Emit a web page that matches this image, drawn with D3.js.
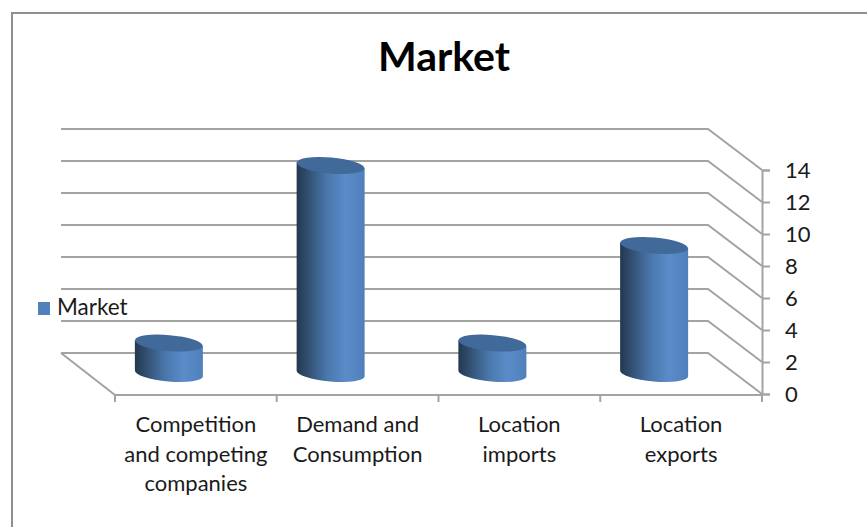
<!DOCTYPE html>
<html>
<head>
<meta charset="utf-8">
<script src="https://cdn.jsdelivr.net/npm/d3@7/dist/d3.min.js"></script>
<style>
html,body{margin:0;padding:0;background:#fff;}
svg{display:block;}
text{font-family:Lato,"Open Sans",sans-serif;fill:#1a1a1a;}
</style>
</head>
<body>
<svg id="chart" width="867" height="527"></svg>
<script>
// Chart content
const chartTitle = "Market";
const seriesName = "Market";
const categories = [
  ["Competition", "and competing", "companies"],
  ["Demand and", "Consumption"],
  ["Location", "imports"],
  ["Location", "exports"]
];
const values = [1.9, 13, 1.9, 8];
const tickValues = [0, 2, 4, 6, 8, 10, 12, 14];

// Oblique 3D box: front face plus the shift to the back wall
const plot = {left: 115, right: 762, bottom: 394, top: 170};
const depth = {dx: -54, dy: -41};
const gridColor = "#a3a3a3";

const svg = d3.select("#chart");
const y = d3.scaleLinear().domain([0, 14]).range([plot.bottom, plot.top]);
const x = d3.scaleBand().domain(d3.range(categories.length)).range([plot.left, plot.right]);

// Outer frame, open at the right and bottom
svg.append("path")
  .attr("d", "M12,527V13H867")
  .attr("fill", "none").attr("stroke", "#8f8f8f").attr("stroke-width", 2);

svg.append("text").text(chartTitle)
  .attr("x", 444).attr("y", 71)
  .attr("text-anchor", "middle")
  .attr("font-size", 41).attr("font-weight", 700)
  .style("fill", "#000");

// Wall gridlines with their return to the value axis
const line = d3.line();
svg.append("g").selectAll("path").data(tickValues).join("path")
  .attr("d", v => line([
    [plot.left + depth.dx, y(v) + depth.dy],
    [plot.right + depth.dx, y(v) + depth.dy],
    [plot.right, y(v)]
  ]))
  .attr("fill", "none").attr("stroke", gridColor).attr("stroke-width", 2);

// Floor edges
svg.append("path")
  .attr("d", line([
    [plot.left + depth.dx, y(0) + depth.dy],
    [plot.left, y(0) + 1],
    [plot.right, y(0) + 1]
  ]))
  .attr("fill", "none").attr("stroke", gridColor).attr("stroke-width", 2);

// Value axis
const yAxis = svg.append("g")
  .attr("transform", `translate(${plot.right},0)`)
  .call(d3.axisRight(y).tickValues(tickValues).tickSize(8).tickPadding(15));
yAxis.select(".domain").attr("stroke", gridColor).attr("stroke-width", 2);
yAxis.selectAll(".tick line").attr("stroke", gridColor).attr("stroke-width", 2);
yAxis.selectAll(".tick text")
  .attr("font-size", 22).attr("font-family", "Lato,'Open Sans',sans-serif");

// Category ticks under the floor
svg.append("g").selectAll("line").data(d3.range(categories.length + 1)).join("line")
  .attr("x1", i => plot.left + i * x.bandwidth())
  .attr("x2", i => plot.left + i * x.bandwidth())
  .attr("y1", y(0) + 1).attr("y2", y(0) + 8)
  .attr("stroke", gridColor).attr("stroke-width", 2);

// Category labels
const labels = svg.append("g").selectAll("text").data(categories).join("text")
  .attr("text-anchor", "middle").attr("font-size", 22);
labels.each(function(lines, i) {
  d3.select(this).selectAll("tspan").data(lines).join("tspan")
    .attr("x", x(i) + x.bandwidth() / 2)
    .attr("y", (d, k) => 432 + k * 29.5)
    .text(d => d);
});

// Cylinders
const defs = svg.append("defs");
const grad = defs.append("linearGradient").attr("id", "cylinderSide");
[[0, "#23384f"], [0.22, "#36577b"], [0.45, "#4a78ad"], [0.72, "#5b8cc9"], [1, "#4f80bb"]]
  .forEach(([o, c]) => grad.append("stop").attr("offset", o).attr("stop-color", c));

const radiusX = 34, radiusY = 8, tilt = 5;
const baseY = y(0) + depth.dy / 2;
const barCx = i => x(i) + x.bandwidth() / 2 + depth.dx / 2;
const barTop = v => baseY - (y(0) - y(v));

const bars = svg.append("g").selectAll("g").data(values).join("g")
  .attr("transform", (v, i) => `translate(${barCx(i)},0)`);

// Side surface: straight edges closed by the lower half of the base ellipse
bars.append("path")
  .attr("d", v => {
    const dy = radiusX * Math.sin(tilt * Math.PI / 180);
    const t = barTop(v), b = baseY;
    return `M${-radiusX},${t - dy}L${-radiusX},${b - dy}` +
      `A${radiusX},${radiusY},${tilt},0,0,${radiusX},${b + dy}` +
      `L${radiusX},${t + dy}Z`;
  })
  .attr("fill", "url(#cylinderSide)");

// Top cap
bars.append("ellipse")
  .attr("cx", 0).attr("cy", v => barTop(v))
  .attr("rx", radiusX).attr("ry", radiusY)
  .attr("transform", v => `rotate(${tilt},0,${barTop(v)})`)
  .attr("fill", "#41699a");

// Legend
svg.append("rect").attr("x", 38).attr("y", 302).attr("width", 12).attr("height", 13).attr("fill", "#4f81bd");
svg.append("text").text(seriesName).attr("x", 57).attr("y", 315).attr("font-size", 22.5);
</script>
</body>
</html>
